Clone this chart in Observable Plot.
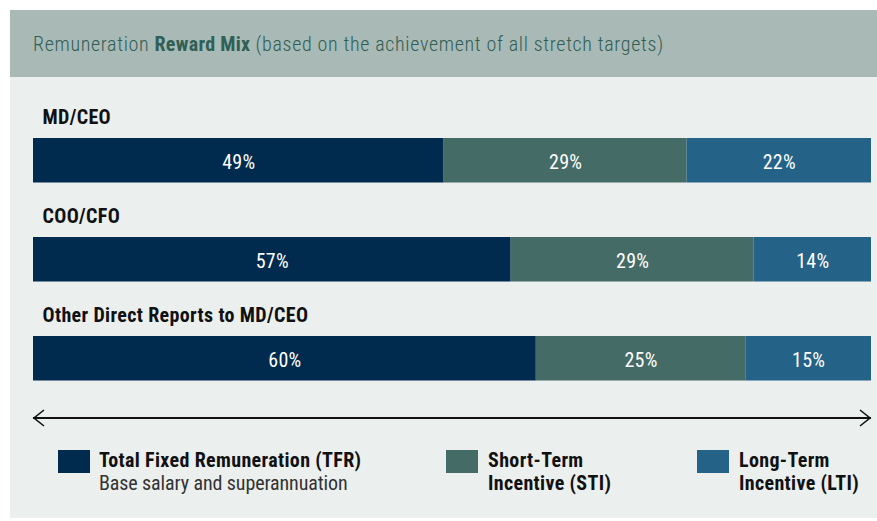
<!DOCTYPE html>
<html>
<head>
<meta charset="utf-8">
<script src="https://cdn.jsdelivr.net/npm/d3@7"></script>
<script src="https://cdn.jsdelivr.net/npm/@observablehq/plot@0.6"></script>
<style>
  html, body { margin: 0; padding: 0; background: #ffffff; }
  body { width: 877px; height: 521px; position: relative; overflow: hidden;
         font-family: "Roboto Condensed", Roboto, sans-serif; }
  #panel { position: absolute; left: 10px; top: 10px; width: 867px; height: 508px; background: #ebefee; }
  #header { position: absolute; left: 0; top: 0; width: 867px; height: 67px; background: #a8b9b6; }
  #title { position: absolute; left: 23px; top: 22px; font-size: 20px; line-height: 24px; color: #2f5f55; white-space: nowrap; letter-spacing: 0.66px; font-weight: 300; }
  #title b { font-weight: bold; letter-spacing: 0.3px; }
  #chart { position: absolute; left: 0; top: 67px; }
  #chart g[font-weight="bold"] text { letter-spacing: 0.35px; }
  #chart g[fill="white"] text { letter-spacing: 0.3px; }
  .sw { position: absolute; width: 32px; height: 23px; top: 440px; }
  .lt { position: absolute; top: 439px; font-size: 20px; line-height: 23.4px; color: #111; white-space: nowrap; }
  .lt b { font-weight: bold; letter-spacing: 0.35px; }
  .lt span { color: #333; letter-spacing: -0.1px; }
</style>
</head>
<body>
<div id="panel">
  <div id="header"><div id="title">Remuneration <b>Reward Mix</b> (based on the achievement of all stretch targets)</div></div>
  <div id="chart"></div>
  <div id="legend"></div>
</div>
<script>
const roles = ["MD/CEO", "COO/CFO", "Other Direct Reports to MD/CEO"];
const components = ["TFR", "STI", "LTI"];
const tfrValues = [49, 57, 60];
const stiValues = [29, 29, 25];
const ltiValues = [22, 14, 15];
const colors = ["#012b4e", "#446b66", "#246287"];
const legendTitles = ["Total Fixed Remuneration (TFR)", "Short-Term\nIncentive (STI)", "Long-Term\nIncentive (LTI)"];
const legendSubtitles = ["Base salary and superannuation", "", ""];

const seriesValues = [tfrValues, stiValues, ltiValues];
const data = [];
roles.forEach((role, i) => {
  components.forEach((c, j) => data.push({role, component: c, value: seriesValues[j][i]}));
});

const FONT = "'Roboto Condensed', Roboto, sans-serif";

const arrowMark = (index, scales, values, dimensions) => {
  const x0 = scales.x(0), x1 = scales.x(100);
  const y = dimensions.height - 19;
  const g = d3.create("svg:g").attr("fill", "none").attr("stroke", "#111").attr("stroke-width", 2);
  g.append("path").attr("d", `M${x0},${y}H${x1}`);
  g.append("path").attr("d", `M${x0 + 11},${y - 8}L${x0 + 1},${y}L${x0 + 11},${y + 8}`).attr("stroke-width", 1.6);
  g.append("path").attr("d", `M${x1 - 11},${y - 8}L${x1 - 1},${y}L${x1 - 11},${y + 8}`).attr("stroke-width", 1.6);
  return g.node();
};

const chart = Plot.plot({
  width: 867,
  height: 360,
  marginLeft: 23,
  marginRight: 6,
  marginTop: 33,
  marginBottom: 28.5,
  style: {background: "transparent", fontFamily: FONT},
  x: {domain: [0, 100], axis: null},
  y: {domain: roles, axis: null, padding: 0},
  color: {domain: components, range: colors},
  marks: [
    Plot.barX(data, Plot.stackX({x: "value", y: "role", fill: "component", order: components, insetTop: 27, insetBottom: 27.5})),
    Plot.text(data, Plot.stackX({x: "value", y: "role", z: "component", order: components,
      text: d => d.value + "%", fill: "white", fontSize: 20, dy: 1.5, fontFamily: FONT})),
    Plot.text(roles, {y: d => d, x: () => 0, text: d => d, textAnchor: "start", dx: 9, dy: -43,
      fontSize: 20, fontWeight: "bold", fill: "#111", fontFamily: FONT}),
    arrowMark
  ]
});
document.getElementById("chart").appendChild(chart);

const legend = document.getElementById("legend");
const swX = [48, 436, 687];
const txX = [89, 478, 729];
components.forEach((c, i) => {
  const sw = document.createElement("div");
  sw.className = "sw";
  sw.style.left = swX[i] + "px";
  sw.style.background = colors[i];
  legend.appendChild(sw);
  const t = document.createElement("div");
  t.className = "lt";
  t.style.left = txX[i] + "px";
  const b = document.createElement("b");
  b.innerHTML = legendTitles[i].split("\n").join("<br>");
  t.appendChild(b);
  if (legendSubtitles[i]) {
    t.appendChild(document.createElement("br"));
    const s = document.createElement("span");
    s.textContent = legendSubtitles[i];
    t.appendChild(s);
  }
  legend.appendChild(t);
});
</script>
</body>
</html>
